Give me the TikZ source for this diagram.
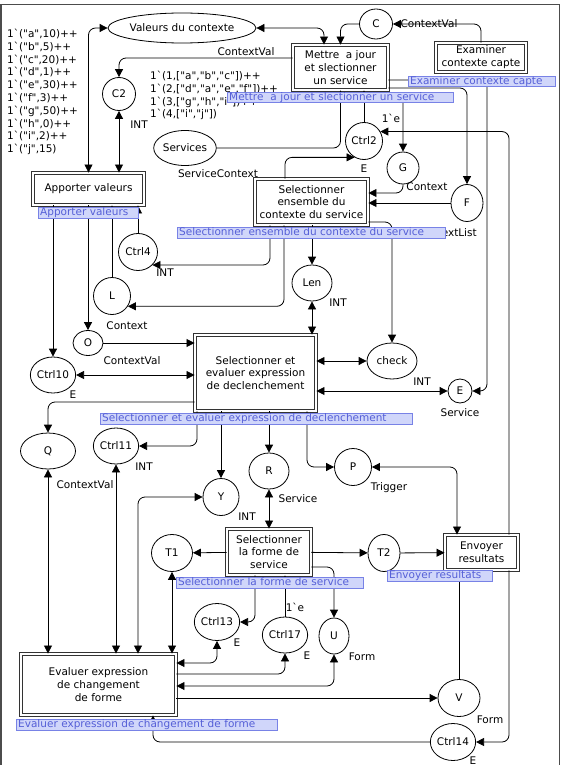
\documentclass[tikz,border=0pt]{standalone}
\usepackage{fontspec}
\newfontfamily\cpnfont{DejaVu Sans}
\usetikzlibrary{shapes.geometric,arrows.meta}

\definecolor{lblfill}{RGB}{208,214,250}
\definecolor{lbldraw}{RGB}{120,130,230}
\definecolor{lbltext}{RGB}{85,95,215}

\begin{document}
\begin{tikzpicture}[x=1pt,y=-1pt,
  font=\cpnfont\fontsize{10.5}{12.8}\selectfont,
  cpnplace/.style 2 args={draw,ellipse,fill=white,inner sep=0pt,line width=0.8pt,
    minimum width=#1,minimum height=#2},
  cpntrans/.style 2 args={draw=black!80,double=white,double distance=2.2pt,line width=0.9pt,
    align=center,inner sep=0pt,minimum width=#1,minimum height=#2},
  tlabel/.style={draw=lbldraw,fill=lblfill,text=lbltext,anchor=north west,inner xsep=2pt,
    inner ysep=0.5pt,text height=7.5pt,text depth=2pt,align=left,text width=#1},
  insc/.style={inner sep=0pt},
  cpnarc/.style={line width=0.8pt,rounded corners=7pt,-{Triangle[length=8pt,width=8pt]}},
  cpnbiarc/.style={line width=0.8pt,rounded corners=7pt,
    {Triangle[length=8pt,width=8pt]}-{Triangle[length=8pt,width=8pt]}}]
  \useasboundingbox (0,0) rectangle (564,765);
  \draw[line width=1.6pt,black!70] (1,4.5) rectangle (559.5,790);
  % places
  \node[cpnplace={131pt}{30pt}] (Valeurs)  at (182,28)  {Valeurs du contexte};
  \node[cpnplace={33pt}{30pt}]  (C)        at (376,24)  {C};
  \node[cpnplace={33pt}{33pt}]  (C2)       at (119,94)  {C2};
  \node[cpnplace={54pt}{35pt}]  (Services) at (185,148) {Services};
  \node[cpnplace={37pt}{37pt}]  (Ctrl2)    at (364,141) {Ctrl2};
  \node[cpnplace={32pt}{32pt}]  (G)        at (403,168) {G};
  \node[cpnplace={32pt}{37pt}]  (F)        at (467,203) {F};
  \node[cpnplace={39pt}{37pt}]  (Ctrl4)    at (138,252) {Ctrl4};
  \node[cpnplace={37pt}{37pt}]  (L)        at (112,296) {L};
  \node[cpnplace={30pt}{25pt}]  (O)        at (88,343)  {O};
  \node[cpnplace={40pt}{36pt}]  (Len)      at (312,283) {Len};
  \node[cpnplace={50pt}{36pt}]  (check)    at (392,361) {check};
  \node[cpnplace={41pt}{36pt}]  (Ctrl10)   at (53,375)  {Ctrl10};
  \node[cpnplace={24pt}{24pt}]  (E)        at (460,391) {E};
  \node[cpnplace={55pt}{36pt}]  (Q)        at (48,451)  {Q};
  \node[cpnplace={43pt}{36pt}]  (Ctrl11)   at (116,446) {Ctrl11};
  \node[cpnplace={36pt}{37pt}]  (Y)        at (221,497) {Y};
  \node[cpnplace={40pt}{36pt}]  (R)        at (269,471) {R};
  \node[cpnplace={37pt}{37pt}]  (P)        at (353,467) {P};
  \node[cpnplace={41pt}{37pt}]  (T1)       at (172,553) {T1};
  \node[cpnplace={32pt}{37pt}]  (T2)       at (384,553) {T2};
  \node[cpnplace={41pt}{37pt}]  (Ctrl13)   at (217,622) {Ctrl13};
  \node[cpnplace={44pt}{36pt}]  (Ctrl17)   at (285,635) {Ctrl17};
  \node[cpnplace={30pt}{36pt}]  (U)        at (334,636) {U};
  \node[cpnplace={42pt}{37pt}]  (V)        at (459,698) {V};
  \node[cpnplace={39pt}{37pt}]  (Ctrl14)   at (453,742) {Ctrl14};
  % transitions
  \node[cpntrans={95pt}{45pt}]   (Mettre)   at (340.5,67.5) {Mettre~ a jour\\et slectionner\\un service};
  \node[cpntrans={90pt}{29pt}]   (Examiner) at (481,57.5)   {Examiner\\contexte capte};
  \node[cpntrans={111pt}{32pt}]  (Apporter) at (88.5,189)   {Apporter valeurs};
  \node[cpntrans={113pt}{46pt}]  (SelEns)   at (311.5,202)  {Selectionner\\ensemble du\\contexte du service};
  \node[cpntrans={121pt}{76pt}]  (SelEval)  at (255.5,373)  {Selectionner et\\evaluer expression\\de declenchement};
  \node[cpntrans={84pt}{46pt}]   (SelForme) at (269,552)    {Selectionner\\la forme de\\service};
  \node[cpntrans={73pt}{35pt}]   (Envoyer)  at (481.5,552.5) {Envoyer\\resultats};
  \node[cpntrans={155pt}{61pt}]  (Evaluer)  at (98.5,684.5) {Evaluer expression\\de changement\\de forme};
  % arcs, top part
  \draw[cpnbiarc] (Apporter.north) |- (Valeurs.west);
  \draw[cpnbiarc] ([xshift=-16.5pt]Mettre.north) |- (Valeurs.east);
  \draw[cpnarc] (C.west) -| (Mettre.north);
  \draw[cpnarc] (Examiner.north) |- (C.east);
  \draw[cpnarc] ([yshift=9.5pt]Mettre.west) -| (C2.north);
  \draw[cpnbiarc] (C2) -- (C2 |- Apporter.north);
  \draw[cpnarc] (Services.east) -| (Mettre.south);
  \draw[cpnarc] (Ctrl2) -- (Ctrl2 |- Mettre.south);
  \draw[cpnarc] ([yshift=-5pt]Mettre.south east) -| (G);
  \draw[cpnarc] ([yshift=-20.5pt]Mettre.east) -| (F);
  \draw[cpnarc] ([yshift=-12.5pt]Mettre.east) -| (E.east -| 487,0) -- (E.east);
  \draw[cpnarc] ([xshift=27.5pt]Envoyer.north) |- (Ctrl2.30);
  \draw[cpnarc] (G) |- ([yshift=9pt]SelEns.east);
  \draw[cpnarc] (F) -- (SelEns.east |- F);
  \draw[cpnarc] ([xshift=-26.5pt]SelEns.north) |- (Ctrl2.240);
  \draw[cpnarc] ([xshift=-41.5pt]SelEns.south) |- (Ctrl4.-42);
  \draw[cpnarc] ([xshift=-27.5pt]SelEns.south) |- (L.-33);
  \draw[cpnarc] (Len |- SelEns.south) -- (Len);
  \draw[cpnarc] ([yshift=-20pt]SelEns.east) -| (check);
  \draw[cpnarc] (Ctrl4) -- (Ctrl4 |- Apporter.south);
  \draw[cpnarc] (L) -- (L |- Apporter.south);
  \draw[cpnarc] (O |- Apporter.south) -- (O);
  \draw[cpnarc] (Ctrl10 |- Apporter.south) -- (Ctrl10);
  % arcs, middle part
  \draw[cpnbiarc] (Len) -- (Len |- SelEval.north);
  \draw[cpnbiarc] (check) -- (check -| SelEval.east);
  \draw[cpnbiarc] (E) -- (E -| SelEval.east);
  \draw[cpnarc] (O) -- (O -| SelEval.west);
  \draw[cpnbiarc] (Ctrl10) -- (Ctrl10 -| SelEval.west);
  \draw[cpnarc] ([yshift=-29pt]SelEval.west) -| (Q);
  \draw[cpnarc] ([xshift=-58.5pt]SelEval.south) |- (Ctrl11);
  \draw[cpnarc] (Y |- SelEval.south) -- (Y);
  \draw[cpnarc] (R |- SelEval.south) -- (R);
  \draw[cpnarc] ([xshift=51.5pt]SelEval.south) |- (P);
  \draw[cpnbiarc] (P) -| ([xshift=-24.5pt]Envoyer.north);
  \draw[cpnbiarc] (R) -- (R |- SelForme.north);
  \draw[cpnarc] (SelForme) -- (T1);
  \draw[cpnarc] (SelForme) -- (T2);
  \draw[cpnarc] (T2) -- (Envoyer);
  \draw[cpnarc] ([xshift=-14pt]SelForme.south) |- (Ctrl13);
  \draw[cpnarc] (Ctrl17) -- (Ctrl17 |- SelForme.south);
  \draw[cpnarc] ([yshift=-15pt]SelForme.east) -| (U);
  % arcs, bottom part
  \draw[cpnbiarc] (T1) -- (T1 |- Evaluer.north);
  \draw[cpnbiarc] (Q) -- (Q |- Evaluer.north);
  \draw[cpnbiarc] (Ctrl11) -- (Ctrl11 |- Evaluer.north);
  \draw[cpnbiarc] (Evaluer.north -| 138,0) |- (Y);
  \draw[cpnbiarc] ([yshift=21.5pt]Evaluer.east) -| (Ctrl13);
  \draw[cpnarc] ([yshift=10.5pt]Evaluer.east) -| (Ctrl17);
  \draw[cpnbiarc] ([yshift=-1.5pt]Evaluer.east) -| (U);
  \draw[cpnarc] (Evaluer.east |- V) -- (V);
  \draw[cpnarc] (V) -- (V |- Envoyer.south);
  \draw[cpnarc] ([xshift=27.5pt]Envoyer.south) |- (Ctrl14);
  \draw[cpnarc] (Ctrl14) -| ([xshift=54.5pt]Evaluer.south);
  % initial markings
  \node[insc,anchor=north west,align=left] (mark1) at (7,29)
    {1\textasciigrave("a",10)++\\1\textasciigrave("b",5)++\\1\textasciigrave("c",20)++\\
     1\textasciigrave("d",1)++\\1\textasciigrave("e",30)++\\1\textasciigrave("f",3)++\\
     1\textasciigrave("g",50)++\\1\textasciigrave("h",0)++\\1\textasciigrave("i",2)++\\
     1\textasciigrave("j",15)};
  \node[insc,anchor=north west,align=left] (mark2) at (150,71)
    {1\textasciigrave(1,["a","b","c"])++\\1\textasciigrave(2,["d","a","e","f"])++\\
     1\textasciigrave(3,["g","h","i"])++\\1\textasciigrave(4,["i","j"])};
  % colour sets and arc inscriptions
  \node[insc] (cvC)     at (429,24)  {ContextVal};
  \node[insc] (cvC2)    at (246,52)  {ContextVal};
  \node[insc] (intC2)   at (139,125) {INT};
  \node[insc] (scServ)  at (218,174) {ServiceContext};
  \node[insc] (eCtrl2)  at (364,169) {E};
  \node[insc] (oneE)    at (391,118) {1\textasciigrave e};
  \node[insc] (ctxG)    at (427,187) {Context};
  \node[insc] (clF)     at (447,233) {ContextList};
  \node[insc] (intCtrl4) at (165,273) {INT};
  \node[insc] (ctxL)    at (127,326) {Context};
  \node[insc] (intLen)  at (338,303) {INT};
  \node[insc] (cvO)     at (132,361) {ContextVal};
  \node[insc] (eCtrl10) at (73,395)  {E};
  \node[insc] (intCheck) at (422,382) {INT};
  \node[insc] (servE)   at (460,413) {Service};
  \node[insc] (intCtrl11) at (144,467) {INT};
  \node[insc] (cvQ)     at (85,485)  {ContextVal};
  \node[insc] (servR)   at (298,499) {Service};
  \node[insc] (intY)    at (247,517) {INT};
  \node[insc] (trigP)   at (389,488) {Trigger};
  \node[insc] (oneE2)   at (295,607) {1\textasciigrave e};
  \node[insc] (eCtrl13) at (237,643) {E};
  \node[insc] (eCtrl17) at (307,656) {E};
  \node[insc] (formU)   at (362,657) {Form};
  \node[insc] (formV)   at (490,720) {Form};
  \node[insc] (eCtrl14) at (473,761) {E};
  % transition names
  \node[tlabel=222pt] (lMettre)   at (227,92)  {Mettre~ a jour et slectionner un service};
  \node[tlabel=143pt] (lExaminer) at (408,76)  {Examiner contexte capte};
  \node[tlabel=96pt]  (lApporter) at (38,207)  {Apporter valeurs};
  \node[tlabel=264pt] (lSelEns)   at (177,227) {Selectionner ensemble du contexte du service};
  \node[tlabel=308pt] (lSelEval)  at (100,413) {Selectionner et evaluer expression de declenchement};
  \node[tlabel=183pt] (lSelForme) at (176,577) {Selectionner la forme de service};
  \node[tlabel=101pt] (lEnvoyer)  at (387,570) {Envoyer resultats};
  \node[tlabel=257pt] (lEvaluer)  at (16,719)  {Evaluer expression de changement de forme};
\end{tikzpicture}
\end{document}
